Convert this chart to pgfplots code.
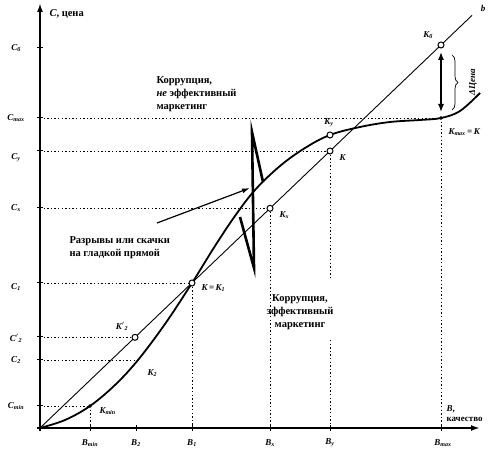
\documentclass[border=0pt]{standalone}
\usepackage{fontspec}
\setmainfont{Liberation Serif}
\usepackage{pgfplots}
\pgfplotsset{compat=1.18}
\usetikzlibrary{arrows.meta,decorations.pathreplacing}
\tikzset{lbl/.style={font=\bfseries\itshape\small}}

\pgfplotstableread{
x y
0 0
25 8
50 22
75 43
98 68
125 104
152 145
175 182
195 212
215 238
240 262
265 280
290 293
320 301
350 306
380 308
401 310
420 317
440 335
}\curvedata

\pgfplotstableread{
x y
95 90.7
152 145
230 219.7
290 277
401 383
290 293
}\circles

\pgfplotstableread{
x y
200 211
214 160
212 296
223 246
}\zigzag

\begin{document}
\begin{tikzpicture}
\begin{axis}[name=ax, x=1pt, y=1pt, xmin=-40, xmax=448, ymin=-22, ymax=428,
  hide axis, clip=false, font=\bfseries\footnotesize]
% dotted guide lines
\pgfplotsset{guide/.style={line width=0.9pt, dash pattern=on 1.4pt off 2.2pt}}
\addplot[guide] coordinates {(0,310) (401,310)};
\addplot[guide] coordinates {(0,277) (290,277)};
\addplot[guide] coordinates {(0,220) (230,220)};
\addplot[guide] coordinates {(0,145) (152,145)};
\addplot[guide] coordinates {(0,91) (95,91)};
\addplot[guide] coordinates {(0,68) (98,68)};
\addplot[guide] coordinates {(0,22) (50,22)};
\addplot[guide] coordinates {(50,22) (50,0)};
\addplot[guide] coordinates {(152,145) (152,0)};
\addplot[guide] coordinates {(230,220) (230,0)};
\addplot[guide] coordinates {(290,277) (290,150)};
\addplot[guide] coordinates {(290,88) (290,0)};
\addplot[guide] coordinates {(401,310) (401,0)};
% axes
\addplot[line width=1.8pt, -{Latex[length=9pt,width=6pt]}] coordinates {(-3,0) (440,0)};
\addplot[line width=1.8pt, -{Latex[length=9pt,width=6pt]}] coordinates {(0,-3) (0,425)};
% line b
\addplot[line width=0.9pt] coordinates {(0,0) (432,412.6)};
% curve
\addplot[line width=1.8pt, smooth, tension=0.6] table {\curvedata};
% zigzag
\addplot[line width=2.6pt, line join=miter] table {\zigzag};
% circles
\addplot[only marks, mark=*, mark size=3pt, mark options={fill=white, draw=black, line width=1pt}] table {\circles};
\addplot[only marks, mark=*, mark size=1.6pt] coordinates {(50,22) (401,310)};
% arrow
\draw[line width=1.2pt, -{Latex[length=8pt,width=5pt]}] (axis cs:117,205) -- (axis cs:210,240);
% double arrow and brace
\draw[line width=1.3pt, {Latex[length=8pt,width=6pt]}-{Latex[length=8pt,width=6pt]}] (axis cs:401,376) -- (axis cs:401,316);
\draw[line width=0.7pt, decorate, decoration={brace, amplitude=6pt}] (axis cs:412,373) -- (axis cs:412,318);
\node[rotate=90, font=\bfseries\itshape\small] at (axis cs:433,346) {ΔЦена};
% texts
\node[anchor=west, font=\bfseries\fontsize{10.5}{12}\selectfont] at (axis cs:6,414) {\textit{C}, цена};
\node[anchor=west, align=left, font=\bfseries\fontsize{10.5}{12}\selectfont] at (axis cs:113,334) {Коррупция,\\[1pt]\textit{не} эффективный\\[1pt]маркетинг};
\node[anchor=west, align=left, font=\bfseries\fontsize{10.5}{12}\selectfont] at (axis cs:26,180) {Разрывы или скачки\\[1pt]на гладкой прямой};
\node[anchor=center, align=center, font=\bfseries\fontsize{10.5}{12}\selectfont] at (axis cs:260,116) {Коррупция,\\[1pt]эффективный\\[1pt]маркетинг};
\node[anchor=west, align=left, font=\bfseries\small] at (axis cs:403,14) {\textit{B},\\[-1pt]качество};
\node[font=\bfseries\itshape\small] at (axis cs:443,420) {b};
% point labels
\node[lbl] at (axis cs:388,393) {K\textsubscript{б}};
\node[lbl] at (axis cs:289,305) {K\textsubscript{у}};
\node[lbl, anchor=west] at (axis cs:296,270) {K};
\node[lbl, anchor=west] at (axis cs:405,296) {K\textsubscript{max}\,=\,K};
\node[lbl, anchor=west] at (axis cs:236,213) {K\textsubscript{х}};
\node[lbl, anchor=west] at (axis cs:158,140) {K\,=\,K\textsubscript{1}};
\node[lbl] at (axis cs:82,102) {K$'$\textsubscript{2}};
\node[lbl, anchor=west] at (axis cs:104,55) {K\textsubscript{2}};
\node[lbl, anchor=west] at (axis cs:56,17) {K\textsubscript{min}};
% y labels
\node[lbl] at (axis cs:-24,380) {C\textsubscript{б}};
\node[lbl] at (axis cs:-24,310) {C\textsubscript{max}};
\node[lbl] at (axis cs:-24,270) {C\textsubscript{у}};
\node[lbl] at (axis cs:-24,220) {C\textsubscript{х}};
\node[lbl] at (axis cs:-24,141) {C\textsubscript{1}};
\node[lbl] at (axis cs:-24,90) {C$'$\textsubscript{2}};
\node[lbl] at (axis cs:-24,68) {C\textsubscript{2}};
\node[lbl] at (axis cs:-24,22) {C\textsubscript{min}};
% x labels
\node[lbl] at (axis cs:50,-15) {B\textsubscript{min}};
\node[lbl] at (axis cs:96,-15) {B\textsubscript{2}};
\node[lbl] at (axis cs:152,-15) {B\textsubscript{1}};
\node[lbl] at (axis cs:230,-15) {B\textsubscript{х}};
\node[lbl] at (axis cs:290,-15) {B\textsubscript{у}};
\node[lbl] at (axis cs:403,-15) {B\textsubscript{max}};
% ticks
\addplot[line width=1pt, only marks, mark=-, mark size=3pt] coordinates {(0,380) (0,310) (0,277) (0,220) (0,145) (0,91) (0,68) (0,22)};
\addplot[line width=1pt, only marks, mark=|, mark size=3pt] coordinates {(50,0) (96,0) (152,0) (230,0) (290,0) (401,0)};
\end{axis}
\pgfresetboundingbox
\useasboundingbox (ax.south west) rectangle (ax.north east);
\end{tikzpicture}
\end{document}
